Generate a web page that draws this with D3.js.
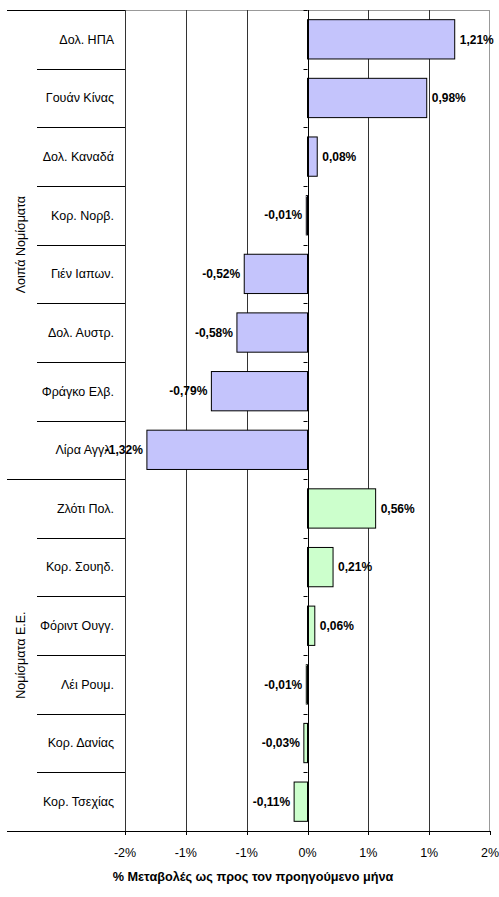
<!DOCTYPE html>
<html><head><meta charset="utf-8">
<script src="https://cdn.jsdelivr.net/npm/d3@7"></script>
<style>body{margin:0;background:#fff}svg{display:block}text{font-family:"Liberation Sans",Arial,sans-serif}</style>
</head><body>
<svg id="c" width="499" height="897"></svg>
<script>
const groupOther = ["Δολ. ΗΠΑ","Γουάν Κίνας","Δολ. Καναδά","Κορ. Νορβ.","Γιέν Ιαπων.","Δολ. Αυστρ.","Φράγκο Ελβ.","Λίρα Αγγλ."];
const valuesOther = [1.21,0.98,0.08,-0.01,-0.52,-0.58,-0.79,-1.32];
const groupEU = ["Ζλότι Πολ.","Κορ. Σουηδ.","Φόριντ Ουγγ.","Λέι Ρουμ.","Κορ. Δανίας","Κορ. Τσεχίας"];
const valuesEU = [0.56,0.21,0.06,-0.01,-0.03,-0.11];
const groupNames = ["Λοιπά Νομίσματα","Νομίσματα  Ε.Ε."];
const tickValues = [-1.5,-1.0,-0.5,0,0.5,1.0,1.5];
const tickLabels = ["-2%","-1%","-1%","0%","1%","1%","2%"];
const axisTitle = "% Μεταβολές ως προς τον προηγούμενο μήνα";

const rows = groupOther.map((c,i)=>({cat:c,v:valuesOther[i],g:0}))
  .concat(groupEU.map((c,i)=>({cat:c,v:valuesEU[i],g:1})));

const svg = d3.select("#c");
const L=125, R=490, T=10, B=831;
const x = d3.scaleLinear().domain([-1.5,1.5]).range([L,R]);
const y = d3.scaleBand().domain(rows.map((d,i)=>i)).range([T,B]).paddingInner(0.33).paddingOuter(0.165);
const step = y.step();
const colors = ["#c4c4fc","#ccffcc"];

svg.append("line").attr("x1",L).attr("x2",R).attr("y1",T+0.5).attr("y2",T+0.5).attr("stroke","#999");
svg.append("line").attr("x1",R-0.5).attr("x2",R-0.5).attr("y1",T).attr("y2",B).attr("stroke","#999");
svg.selectAll("line.grid").data(tickValues.filter(v=>v!==0 && v!==1.5)).join("line")
  .attr("class","grid").attr("x1",d=>Math.round(x(d))+0.5).attr("x2",d=>Math.round(x(d))+0.5)
  .attr("y1",T).attr("y2",B).attr("stroke","#333");
svg.append("line").attr("x1",7).attr("x2",L).attr("y1",T+0.5).attr("y2",T+0.5).attr("stroke","#000");
const bounds = d3.range(1,rows.length);
svg.selectAll("line.sep").data(bounds).join("line")
  .attr("x1",d=>rows[d].g!==rows[d-1].g?7:37).attr("x2",L)
  .attr("y1",d=>Math.round(T+d*step)+0.5).attr("y2",d=>Math.round(T+d*step)+0.5).attr("stroke","#000");
svg.selectAll("line.tk").data(d3.range(0,rows.length+1)).join("line")
  .attr("x1",x(0)-4).attr("x2",x(0))
  .attr("y1",d=>Math.round(T+d*step)+0.5).attr("y2",d=>Math.round(T+d*step)+0.5).attr("stroke","#000");

svg.selectAll("rect.bar").data(rows).join("rect").attr("class","bar")
  .attr("x",d=>x(Math.min(0,d.v))).attr("width",d=>Math.abs(x(d.v)-x(0)))
  .attr("y",(d,i)=>y(i)).attr("height",y.bandwidth())
  .attr("fill",d=>colors[d.g]).attr("stroke","#000").attr("stroke-width",1);

svg.append("line").attr("x1",Math.round(x(0))+0.5).attr("x2",Math.round(x(0))+0.5).attr("y1",T).attr("y2",B).attr("stroke","#000");
svg.append("line").attr("x1",7).attr("x2",R).attr("y1",B+0.5).attr("y2",B+0.5).attr("stroke","#000");
svg.selectAll("line.bt").data(tickValues).join("line")
  .attr("x1",d=>Math.round(x(d))+0.5).attr("x2",d=>Math.round(x(d))+0.5)
  .attr("y1",B).attr("y2",B+4).attr("stroke","#000");

const fmt = v => v.toFixed(2).replace(".",",")+"%";
svg.selectAll("text.dl").data(rows).join("text").attr("class","dl")
  .attr("x",d=>d.v>=0?x(d.v)+5:x(d.v)-4)
  .attr("y",(d,i)=>y(i)+y.bandwidth()/2).attr("dy","0.35em")
  .attr("text-anchor",d=>d.v>=0?"start":"end")
  .attr("font-size",12).attr("font-weight","bold").text(d=>fmt(d.v));

svg.selectAll("text.cl").data(rows).join("text").attr("class","cl")
  .attr("x",114).attr("y",(d,i)=>T+(i+0.5)*step).attr("dy","0.35em")
  .attr("text-anchor","end").attr("font-size",12.5).text(d=>d.cat);

const gCounts=[groupOther.length,groupEU.length];
let start=0;
groupNames.forEach((g,i)=>{
  const cy=T+(start+gCounts[i]/2)*step; start+=gCounts[i];
  svg.append("text").attr("transform",`translate(21,${cy}) rotate(-90)`).attr("dy","0.35em")
    .attr("text-anchor","middle").attr("font-size",12.5).text(g);
});

svg.selectAll("text.xl").data(tickValues).join("text").attr("class","xl")
  .attr("x",d=>x(d)).attr("y",857).attr("text-anchor","middle").attr("font-size",12.5)
  .text((d,i)=>tickLabels[i]);
svg.append("text").attr("x",253).attr("y",881).attr("text-anchor","middle")
  .attr("font-size",12.7).attr("font-weight","bold").text(axisTitle);
</script>
</body></html>
